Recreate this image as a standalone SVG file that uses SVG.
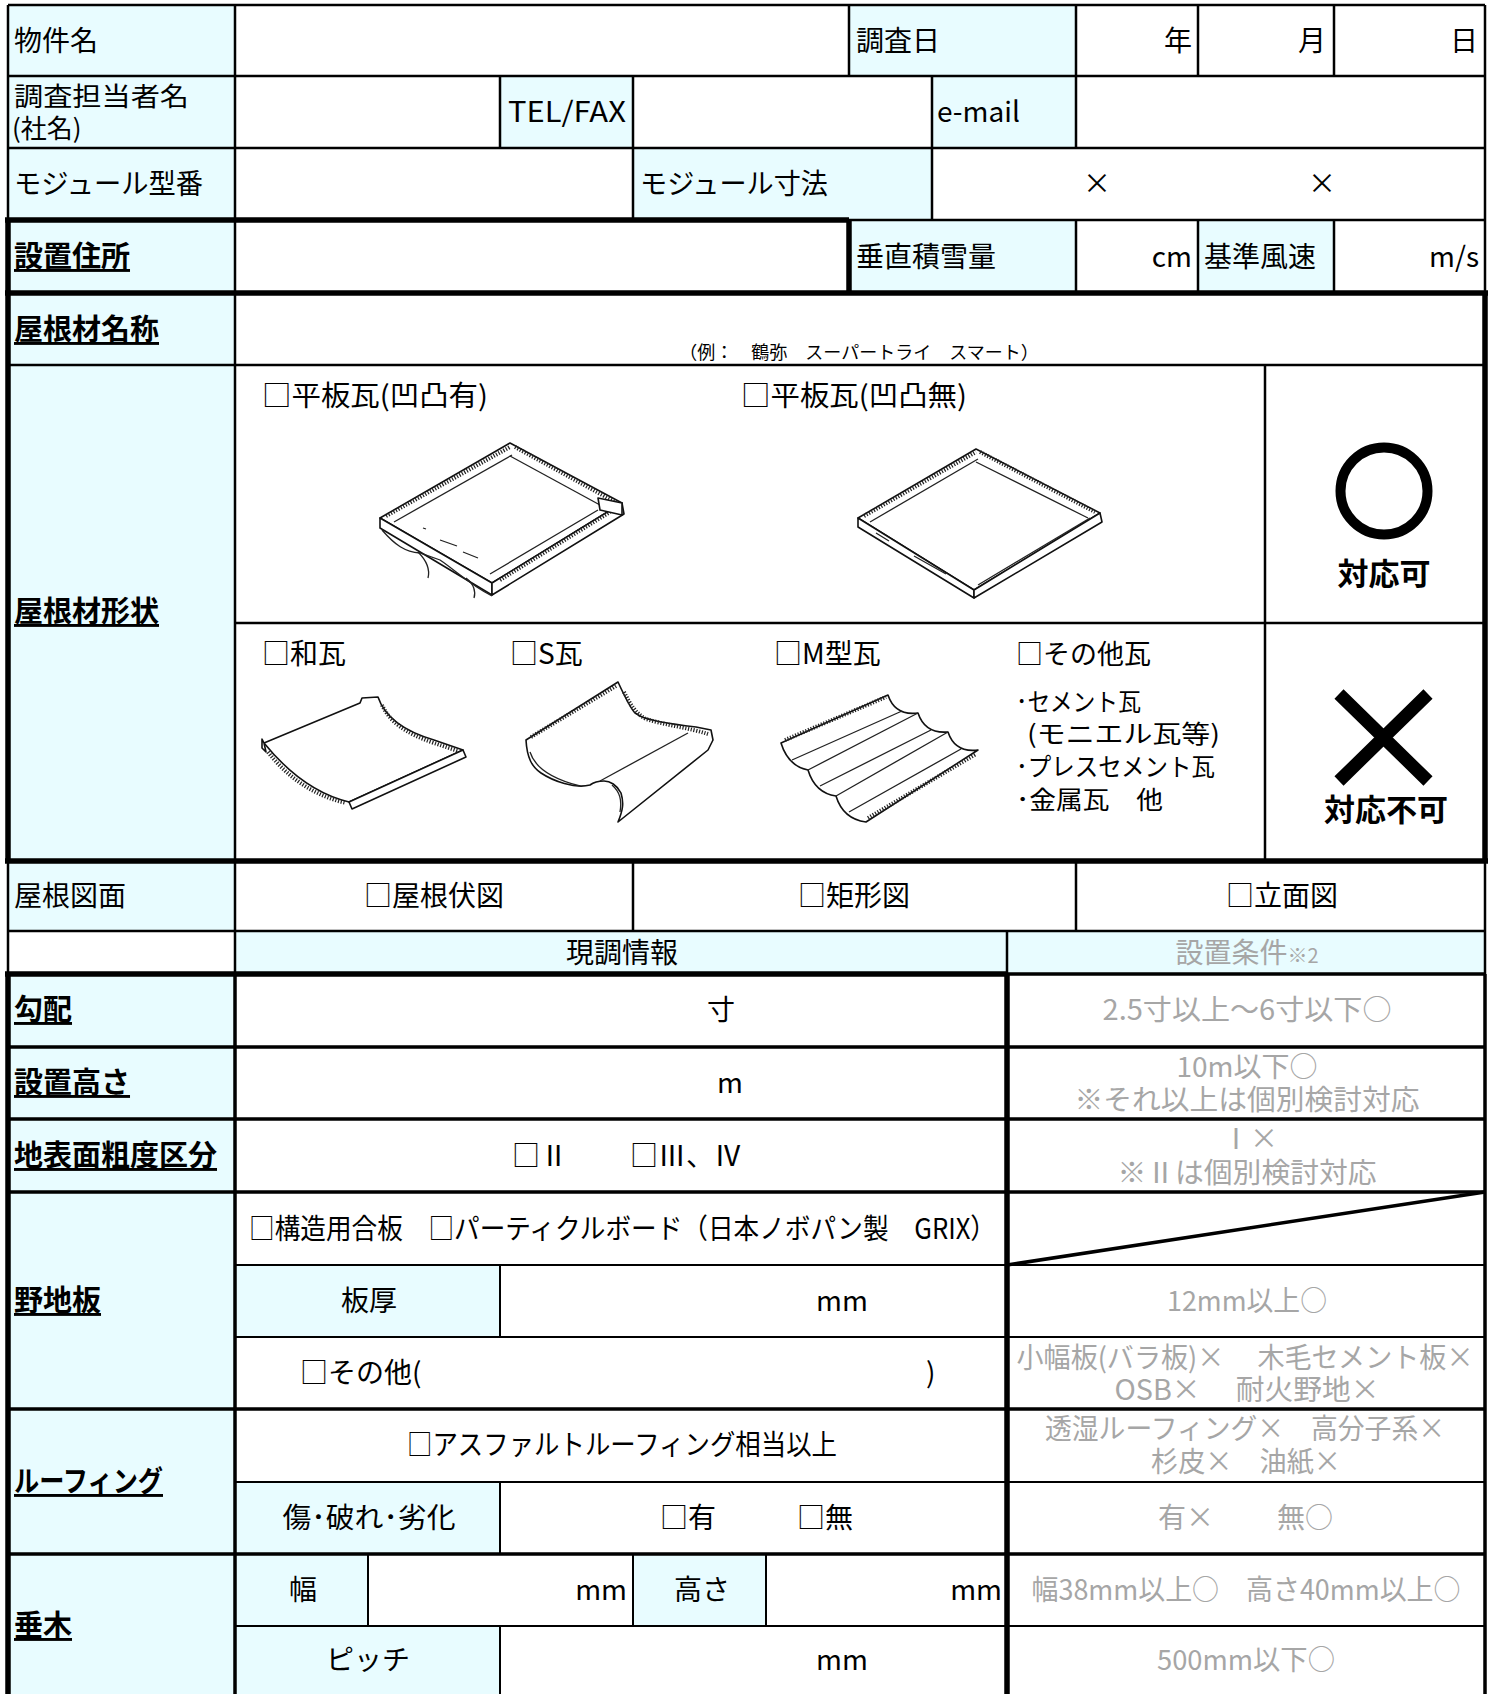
<svg xmlns="http://www.w3.org/2000/svg" width="1497" height="1694" viewBox="0 0 1497 1694">
<style>
text{font-family:'Noto Sans CJK JP','Noto Sans CJK SC',sans-serif;font-size:28px;fill:#000}
.c{text-anchor:middle}
.e{text-anchor:end}
.b{font-weight:bold;text-decoration:underline;font-size:29px}
.g{fill:#A6A6A6}
.lab{fill:#E8FCFF}
.ln{stroke:#000;stroke-width:2.5;fill:none}
.sb{stroke:#000;stroke-width:2;fill:none}
.md{stroke:#000;stroke-width:3.5;fill:none}
.tk{stroke:#000;stroke-width:5.5;fill:none}
.il{stroke:#111;stroke-width:1.6;fill:#fff;stroke-linejoin:round}
.th{stroke:#222;stroke-width:1.3;fill:none}
.ht{stroke:#222;stroke-width:4;stroke-dasharray:1.2 1.6;fill:none}
.sm{font-size:26px}
</style>
<rect x="0" y="0" width="1497" height="1694" fill="#fff"/>

<g id="cells">
<rect class="lab" x="8" y="5" width="227" height="926"/>
<rect class="lab" x="8" y="974" width="227" height="720"/>
<rect class="lab" x="849" y="5" width="227" height="71"/>
<rect class="lab" x="500" y="76" width="133" height="72"/>
<rect class="lab" x="932" y="76" width="144" height="72"/>
<rect class="lab" x="633" y="148" width="299" height="72"/>
<rect class="lab" x="849" y="220" width="227" height="73"/>
<rect class="lab" x="1198" y="220" width="136" height="73"/>
<rect class="lab" x="235" y="931" width="1250" height="43"/>
<rect class="lab" x="235" y="1265" width="265" height="72"/>
<rect class="lab" x="235" y="1482" width="265" height="72"/>
<rect class="lab" x="235" y="1554" width="133" height="72"/>
<rect class="lab" x="633" y="1554" width="133" height="72"/>
<rect class="lab" x="235" y="1626" width="265" height="68"/>
</g>

<g id="grid">
<path class="ln" d="M8,5H1485M8,76H1485M8,148H1485M849,220H1485M8,365H1485M235,623H1485M8,931H1485"/>
<path class="tk" d="M5,220H849M5,293H1488M5,861H1488M5,974H1007"/>
<path class="md" d="M1007,974H1485M8,1047H1485M8,1119H1485M8,1192H1485M8,1409H1485M8,1554H1485"/>
<path class="sb" d="M235,1265H1485M235,1337H1485M235,1482H1485M235,1626H1485"/>
<path class="ln" d="M8,5V220M8,861V974M1485,5V293M1485,861V974M235,5V974M849,5V76M1076,5V148M1198,5V76M1334,5V76M500,76V148M633,76V220M932,76V220M1076,220V293M1198,220V293M1334,220V293M1265,365V861M633,861V931M1076,861V931M1007,931V974"/>
<path class="tk" d="M8,220V861M849,220V293M1485,293V861M8,974V1694M1007,974V1694"/>
<path class="md" d="M1485,974V1694M235,974V1694"/>
<path class="sb" d="M500,1265V1337M500,1482V1554M500,1626V1694M368,1554V1626M633,1554V1626M766,1554V1626"/>
<path class="md" d="M1007,1265L1485,1192"/>
</g>

<g id="row-header">
<text x="14" y="51">物件名</text>
<text x="856" y="51">調査日</text>
<text class="e" x="1192" y="51">年</text>
<text class="e" x="1326" y="51">月</text>
<text class="e" x="1478" y="51">日</text>
<text x="14" y="106" class="sm" textLength="175" lengthAdjust="spacingAndGlyphs">調査担当者名</text>
<text x="12" y="138" class="sm">(社名)</text>
<text x="508" y="122" textLength="118" lengthAdjust="spacingAndGlyphs">TEL/FAX</text>
<text x="937" y="122">e-mail</text>
<text x="14" y="194" textLength="189" lengthAdjust="spacingAndGlyphs">モジュール型番</text>
<text x="640" y="194" textLength="188" lengthAdjust="spacingAndGlyphs">モジュール寸法</text>
<text class="c" x="1097" y="194">×</text>
<text class="c" x="1322" y="194">×</text>
<text class="b" x="14" y="267">設置住所</text>
<text x="856" y="267">垂直積雪量</text>
<text class="e" x="1192" y="267">cm</text>
<text x="1204" y="267">基準風速</text>
<text class="e" x="1479" y="267" textLength="50" lengthAdjust="spacingAndGlyphs">m/s</text>
<text class="b" x="14" y="340">屋根材名称</text>
<text class="c" x="859" y="359" style="font-size:18px">（例：　鶴弥　スーパートライ　スマート）</text>
</g>

<g id="roof-shape">
<text class="b" x="14" y="622">屋根材形状</text>
<text x="262" y="406" textLength="226" lengthAdjust="spacingAndGlyphs">□平板瓦(凹凸有)</text>
<text x="741" y="406" textLength="226" lengthAdjust="spacingAndGlyphs">□平板瓦(凹凸無)</text>
<text x="262" y="664">□和瓦</text>
<text x="510" y="664">□S瓦</text>
<text x="774" y="664">□M型瓦</text>
<text x="1016" y="664" style="font-size:27px">□その他瓦</text>
<text x="1016" y="711" style="font-size:25px" textLength="125" lengthAdjust="spacingAndGlyphs">･セメント瓦</text>
<text x="1027" y="743" style="font-size:25px" textLength="193" lengthAdjust="spacingAndGlyphs">(モニエル瓦等)</text>
<text x="1016" y="776" style="font-size:25px" textLength="199" lengthAdjust="spacingAndGlyphs">･プレスセメント瓦</text>
<text x="1016" y="809" style="font-size:25px" textLength="147" lengthAdjust="spacingAndGlyphs">･金属瓦　他</text>
<circle cx="1384" cy="491" r="43.5" fill="none" stroke="#000" stroke-width="10"/>
<text class="c" x="1384" y="585" style="font-size:31px;font-weight:bold">対応可</text>
<path d="M1339,694L1428,781M1428,694L1339,781" stroke="#000" stroke-width="13" fill="none"/>
<text class="c" x="1386" y="821" style="font-size:31px;font-weight:bold">対応不可</text>
</g>

<g id="tile-flat-bump">
<path class="il" d="M380,518L510,443L622,503L492,583Z"/>
<path class="il" d="M380,518L380,528L492,595L492,583Z"/>
<path class="il" d="M492,583L492,595L624,514L622,503Z"/>
<path class="ht" d="M386,516L510,447"/>
<path class="th" d="M394,522L512,455"/>
<path class="ht" d="M515,447L615,502"/>
<path class="th" d="M510,456L600,505"/>
<path class="ht" d="M500,580L610,512"/>
<path class="th" d="M490,574L598,510"/>
<path class="il" d="M598,498L622,503L622,515L600,510Z"/>
<path class="th" d="M382,530C395,545 405,552 420,553L440,560C455,570 470,585 492,596"/>
<path class="th" d="M418,552C428,562 430,570 428,578M466,578C474,584 476,592 474,598"/>
<path class="th" d="M423,528l3,1M440,540L457,546M463,552L478,558"/>
</g>

<g id="tile-flat">
<path class="il" d="M858,518L976,449L1100,513L974,590Z"/>
<path class="il" d="M858,518L858,527L974,598L974,590Z"/>
<path class="il" d="M974,590L974,598L1102,522L1100,513Z"/>
<path class="ht" d="M864,516L976,452"/>
<path class="th" d="M870,522L978,459"/>
<path class="ht" d="M980,452L1095,512"/>
<path class="th" d="M976,462L1088,518"/>
<path class="th" d="M978,585L1090,518"/>
<path class="th" d="M876,533L889,541M914,556L946,574"/>
</g>

<g id="tile-wa">
<path class="il" d="M264,743L360,703L362,698L378,697C384,715 400,730 434,740L463,750L349,802C320,795 290,775 264,743Z"/>
<path class="il" d="M463,750L466,757L352,809L349,802Z"/>
<path class="il" d="M262,739L264,743L266,752L262,748Z"/>
<path class="ht" d="M382,705C390,722 405,733 434,743L458,751"/>
<path class="ht" d="M268,752C288,778 315,796 346,803"/>
</g>

<g id="tile-s">
<path class="il" d="M526,740L618,682C624,695 630,708 635,713L640,716C650,721 670,724 696,727L711,730L713,740L708,750L618,822C623,810 624,803 621,793C617,785 610,781 604,781C598,781 594,782 590,785C575,789 553,781 541,773C532,767 527,758 526,740Z"/>
<path class="ht" d="M531,737L616,686"/>
<path class="ht" d="M624,692C630,704 636,714 646,719C665,725 690,728 708,734"/>
<path class="th" d="M600,781L688,733"/>
<path class="th" d="M530,752C535,768 552,779 580,786"/>
<path class="th" d="M612,785C620,792 622,800 620,812"/>
</g>

<g id="tile-m">
<path class="il" d="M781,743L888,695Q895,716 918,713Q925,734 948,732Q955,753 978,750L866,822Q843,819 836,796Q815,793 808,770Q788,766 781,743Z"/>
<path class="ht" d="M785,740L886,697"/>
<path class="ht" d="M868,818L976,754"/>
<path class="th" d="M792,760L902,711M820,786L931,730M849,812L961,749M808,770L918,713M836,796L948,732"/>
</g>

<g id="roof-drawing">
<text x="14" y="906">屋根図面</text>
<text class="c" x="434" y="906">□屋根伏図</text>
<text class="c" x="854" y="906">□矩形図</text>
<text class="c" x="1282" y="906">□立面図</text>
</g>

<g id="header2">
<text class="c" x="622" y="963">現調情報</text>
<text class="c g" x="1247" y="963">設置条件<tspan style="font-size:20px">※2</tspan></text>
</g>

<g id="slope">
<text class="b" x="14" y="1020">勾配</text>
<text class="c" x="721" y="1020">寸</text>
<text class="c g" x="1247" y="1020" textLength="289" lengthAdjust="spacingAndGlyphs">2.5寸以上～6寸以下○</text>
</g>

<g id="height">
<text class="b" x="14" y="1093">設置高さ</text>
<text class="c" x="730" y="1093">m</text>
<text class="c g" x="1247" y="1077" textLength="141" lengthAdjust="spacingAndGlyphs">10m以下○</text>
<text class="c g" x="1247" y="1110" textLength="345" lengthAdjust="spacingAndGlyphs">※それ以上は個別検討対応</text>
</g>

<g id="roughness">
<text class="b" x="14" y="1166">地表面粗度区分</text>
<text x="512" y="1166">□Ⅱ</text>
<text x="630" y="1166">□Ⅲ、Ⅳ</text>
<text class="c g" x="1250" y="1149">Ⅰ×</text>
<text class="c g" x="1247" y="1183" textLength="259" lengthAdjust="spacingAndGlyphs">※Ⅱは個別検討対応</text>
</g>

<g id="sheathing">
<text class="b" x="14" y="1311">野地板</text>
<text x="249" y="1239" textLength="747" lengthAdjust="spacingAndGlyphs">□構造用合板　□パーティクルボード（日本ノボパン製　GRIX）</text>
<text class="c" x="369" y="1311">板厚</text>
<text class="c" x="842" y="1311">mm</text>
<text class="c g" x="1247" y="1311" textLength="160" lengthAdjust="spacingAndGlyphs">12mm以上○</text>
<text x="300" y="1383">□その他(</text>
<text x="926" y="1383">)</text>
<text class="c g" x="1245" y="1368" textLength="457" lengthAdjust="spacingAndGlyphs">小幅板(バラ板)×　 木毛セメント板×</text>
<text class="c g" x="1247" y="1400" textLength="265" lengthAdjust="spacingAndGlyphs">OSB×　 耐火野地×</text>
</g>

<g id="roofing">
<text class="b" x="14" y="1492" textLength="149" lengthAdjust="spacingAndGlyphs">ルーフィング</text>
<text class="c" x="622" y="1455" textLength="430" lengthAdjust="spacingAndGlyphs">□アスファルトルーフィング相当以上</text>
<text class="c g" x="1245" y="1439" textLength="400" lengthAdjust="spacingAndGlyphs">透湿ルーフィング×　高分子系×</text>
<text class="c g" x="1246" y="1472" textLength="190" lengthAdjust="spacingAndGlyphs">杉皮×　油紙×</text>
<text class="c" x="369" y="1528" textLength="173" lengthAdjust="spacingAndGlyphs">傷･破れ･劣化</text>
<text class="c" x="688" y="1528">□有</text>
<text class="c" x="825" y="1528">□無</text>
<text class="c g" x="1186" y="1528">有×</text>
<text class="c g" x="1305" y="1528">無○</text>
</g>

<g id="rafter">
<text class="b" x="14" y="1636">垂木</text>
<text class="c" x="303" y="1600">幅</text>
<text class="e" x="627" y="1600">mm</text>
<text class="c" x="702" y="1600">高さ</text>
<text class="e" x="1002" y="1600">mm</text>
<text class="c g" x="1246" y="1600" textLength="429" lengthAdjust="spacingAndGlyphs">幅38mm以上○　高さ40mm以上○</text>
<text class="c" x="368" y="1670">ピッチ</text>
<text class="c" x="842" y="1670">mm</text>
<text class="c g" x="1246" y="1670" textLength="178" lengthAdjust="spacingAndGlyphs">500mm以下○</text>
</g>
</svg>
